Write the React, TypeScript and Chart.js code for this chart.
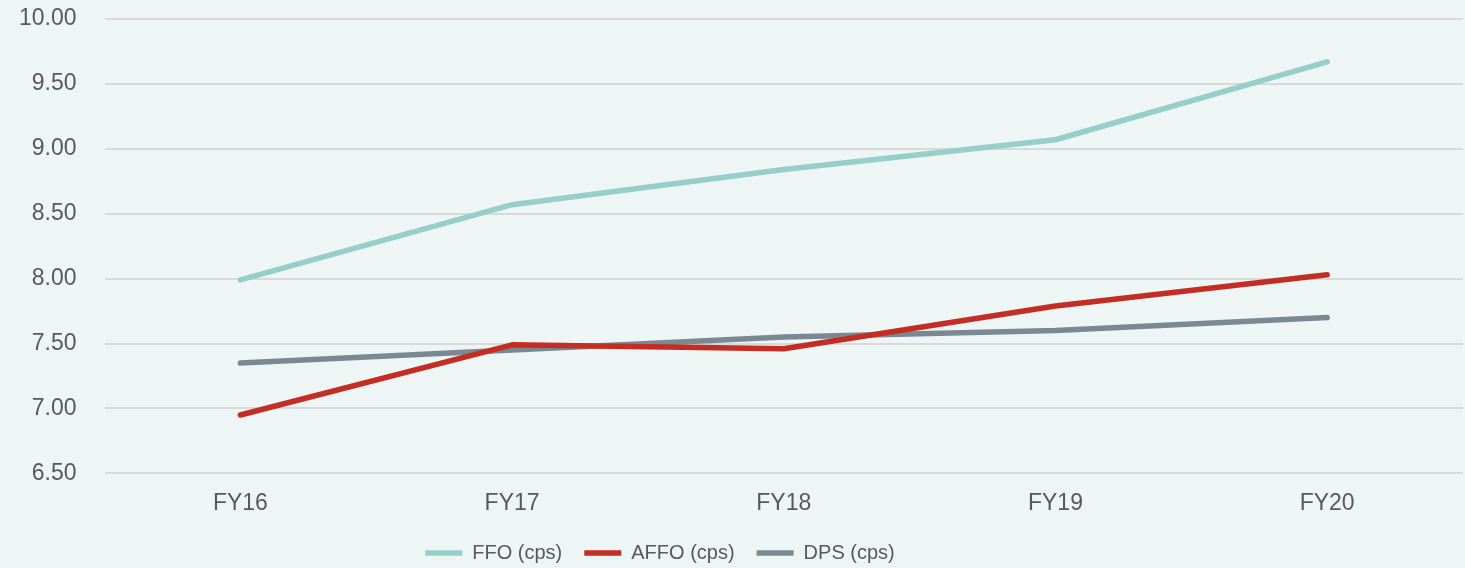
import React, { useEffect, useRef } from "react";
import { Chart, registerables } from "chart.js";

Chart.register(...registerables);

const categories = ["FY16", "FY17", "FY18", "FY19", "FY20"];
const ffo = [7.99, 8.57, 8.84, 9.07, 9.67];
const affo = [6.95, 7.49, 7.46, 7.79, 8.03];
const dps = [7.35, 7.45, 7.55, 7.6, 7.7];
const yTicks = [6.5, 7.0, 7.5, 8.0, 8.5, 9.0, 9.5, 10.0];

const LEGEND_SHIFT_X = -67;
const LEGEND_SHIFT_Y = -12;
const legendShift = {
  id: "legendShift",
  afterLayout(chart: any) {
    const l = chart.legend;
    if (l) {
      l.left += LEGEND_SHIFT_X;
      l.right += LEGEND_SHIFT_X;
      l.top += LEGEND_SHIFT_Y;
      l.bottom += LEGEND_SHIFT_Y;
    }
  },
};

export default function App() {
  const ref = useRef<HTMLCanvasElement>(null);
  useEffect(() => {
    document.body.style.margin = "0";
    document.body.style.background = "#EEF6F5";
    const textColor = "#595959";
    const chart = new Chart(ref.current!, {
      type: "line",
      data: {
        labels: categories,
        datasets: [
          { label: "FFO (cps)", data: ffo, borderColor: "#96CEC9", backgroundColor: "#96CEC9" },
          { label: "AFFO (cps)", data: affo, borderColor: "#C42D24", backgroundColor: "#C42D24" },
          { label: "DPS (cps)", data: dps, borderColor: "#7A8893", backgroundColor: "#7A8893" },
        ].map((d) => ({ ...d, borderWidth: 5.5, borderCapStyle: "round" as const, borderJoinStyle: "round" as const, pointRadius: 0, pointHoverRadius: 0, tension: 0, fill: false })),
      },
      options: {
        animation: false,
        responsive: false,
        maintainAspectRatio: false,
        layout: { padding: { left: -9, right: 2, top: 19, bottom: -17 } },
        scales: {
          x: {
            offset: true,
            grid: { display: false, drawTicks: false },
            border: { display: false },
            ticks: { color: textColor, font: { family: "'Liberation Sans', Arial, sans-serif", size: 23 }, padding: 16 },
          },
          y: {
            min: 6.5,
            max: 10,
            afterBuildTicks: (s: any) => { s.ticks = yTicks.map((v) => ({ value: v })); },
            afterFit: (s: any) => { s.paddingTop = 0; s.paddingBottom = 0; },
            grid: { color: "#D9D9D9", lineWidth: 2, drawTicks: false },
            border: { display: false },
            ticks: { color: textColor, font: { family: "'Liberation Sans', Arial, sans-serif", size: 23 }, padding: 28, callback: (v: any) => Number(v).toFixed(2) },
          },
        },
        plugins: {
          legend: {
            position: "bottom",
            labels: {
              usePointStyle: true,
              pointStyle: "line",
              pointStyleWidth: 37,
              padding: 22,
              color: textColor,
              font: { family: "'Liberation Sans', Arial, sans-serif", size: 20 },
            },
          },
          tooltip: { enabled: false },
        },
      },
      plugins: [legendShift],
    });
    return () => chart.destroy();
  }, []);
  return (
    <div style={{ width: 1465, height: 568, background: "#EEF6F5" }}>
      <canvas ref={ref} width={1465} height={568} style={{ display: "block" }} />
    </div>
  );
}
